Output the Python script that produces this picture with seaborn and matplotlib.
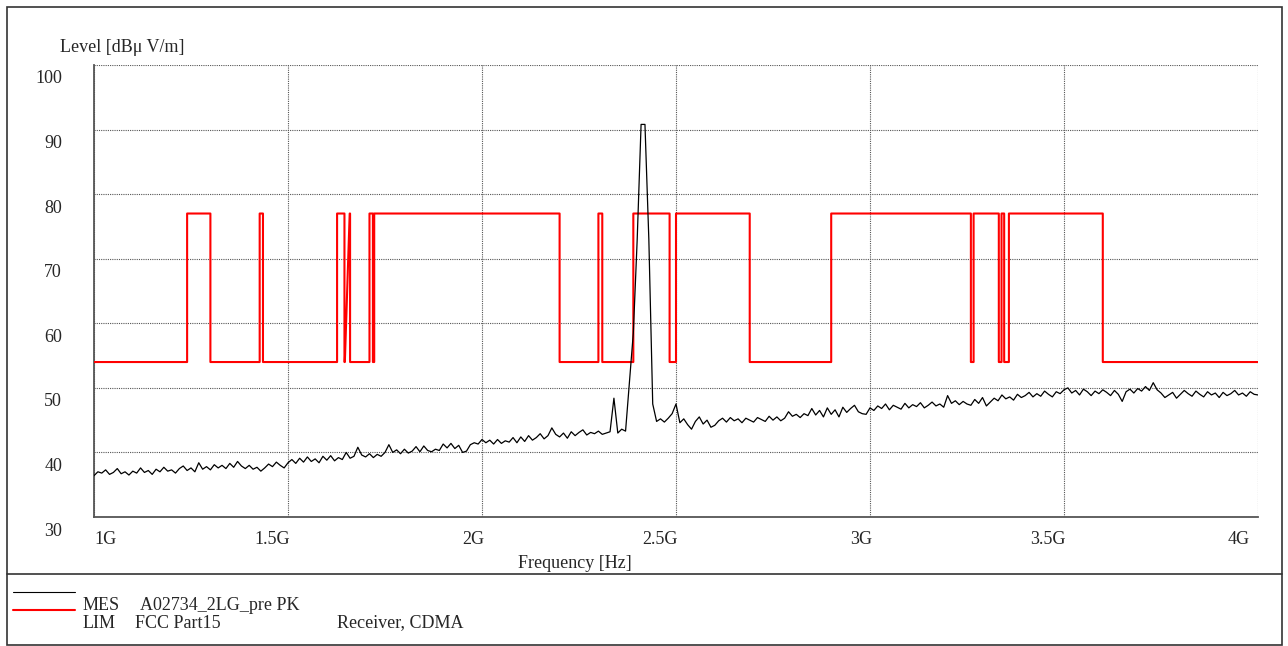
import numpy as np
import pandas as pd
import matplotlib.pyplot as plt
import matplotlib.transforms as mtransforms
from matplotlib.lines import Line2D
from matplotlib.patches import Rectangle
import seaborn as sns

# Measured level (peak detector), one reading every 10 MHz from 1 GHz to 4 GHz
level_1000_1500 = [36.4, 37.0, 36.8, 37.3, 36.6, 36.9, 37.5, 36.7, 37.0, 36.5,
                   37.1, 36.8, 37.6, 36.9, 37.2, 36.6, 37.4, 37.0, 37.7, 37.1,
                   37.3, 36.8, 37.5, 37.9, 37.2, 37.6, 37.0, 38.4, 37.4, 37.8,
                   37.3, 38.1, 37.6, 38.0, 37.5, 38.3, 37.7, 38.6, 37.9, 37.5,
                   38.0, 37.4, 37.7, 37.1, 37.6, 38.2, 37.8, 38.5, 38.0, 37.6, 38.4]
level_1510_1750 = [38.9, 38.3, 39.1, 38.5, 39.3, 38.6, 39.0, 38.4, 39.4, 38.8,
                   39.5, 38.7, 39.2, 38.9, 40.0, 39.1, 39.4, 40.8, 39.6, 39.3,
                   39.8, 39.2, 39.7, 39.4, 40.0]
level_1760_2000 = [41.2, 40.0, 40.4, 39.8, 40.5, 39.9, 40.2, 40.9, 40.1, 41.0,
                   40.3, 40.1, 40.5, 40.3, 41.3, 40.7, 41.4, 40.6, 41.1, 40.0,
                   40.2, 41.2, 41.5, 41.3, 42.0]
level_2010_2250 = [41.5, 41.9, 41.3, 42.0, 41.4, 41.8, 41.6, 42.3, 41.5, 42.4,
                   41.7, 42.6, 41.9, 42.3, 42.9, 42.1, 42.6, 43.8, 42.8, 42.4,
                   43.0, 42.2, 43.2, 42.6, 43.1]
level_2260_2500 = [43.5, 42.7, 43.1, 42.9, 43.3, 42.8, 43.0, 43.2, 48.4, 43.0,
                   43.6, 43.3, 50.8, 58.5, 73.0, 90.8, 90.8, 73.0, 47.5, 44.8,
                   45.2, 44.7, 45.3, 46.0, 47.5]
level_2510_2750 = [44.6, 45.2, 44.3, 43.6, 44.8, 45.5, 44.4, 45.0, 43.9, 44.2,
                   44.9, 45.3, 44.7, 45.4, 44.9, 45.2, 44.6, 45.3, 45.0, 44.7,
                   45.4, 45.1, 44.8, 45.6, 45.0]
level_2760_3000 = [45.5, 44.9, 45.3, 46.3, 45.6, 45.9, 45.4, 46.0, 45.7, 46.8,
                   45.8, 46.5, 45.5, 46.9, 45.9, 46.6, 45.5, 47.0, 46.2, 46.8,
                   47.3, 46.3, 46.0, 45.9, 46.9]
level_3010_3250 = [46.5, 47.2, 46.8, 47.5, 46.6, 47.3, 47.0, 46.7, 47.6, 46.9,
                   47.4, 47.1, 47.7, 46.9, 47.3, 47.8, 47.2, 47.5, 47.0, 48.8,
                   47.6, 48.0, 47.4, 47.9, 47.5]
level_3260_3500 = [47.3, 48.2, 47.6, 48.5, 47.2, 47.8, 48.4, 48.0, 48.9, 48.3,
                   48.6, 48.1, 49.0, 48.5, 48.8, 49.3, 48.6, 49.1, 48.7, 49.5,
                   49.0, 48.6, 49.4, 49.1, 49.7]
level_3510_3750 = [50.0, 49.2, 49.6, 48.9, 49.8, 49.4, 48.8, 49.5, 49.1, 49.7,
                   49.3, 48.8, 49.6, 49.0, 47.9, 49.4, 49.8, 49.2, 49.9, 49.5,
                   50.2, 49.6, 50.8, 49.7, 49.2]
level_3760_4000 = [48.5, 48.9, 49.3, 48.4, 49.0, 49.6, 49.1, 48.7, 49.5, 49.0,
                   48.6, 49.4, 48.9, 49.2, 48.5, 49.3, 48.8, 49.1, 49.6, 48.9,
                   49.2, 48.7, 49.4, 49.0, 48.9]

mes_level = (level_1000_1500 + level_1510_1750 + level_1760_2000 + level_2010_2250
             + level_2260_2500 + level_2510_2750 + level_2760_3000 + level_3010_3250
             + level_3260_3500 + level_3510_3750 + level_3760_4000)
mes_freq = np.round(np.arange(len(mes_level)) * 0.01 + 1.0, 2)

# FCC Part15 limit line (GHz, dBuV/m) - vertices as drawn
lim_freq = [1.0, 1.24, 1.24, 1.30, 1.30, 1.427, 1.427, 1.4355, 1.4355, 1.6265,
            1.6265, 1.6455, 1.6455, 1.6465, 1.659, 1.66, 1.66, 1.71, 1.71, 1.7188,
            1.7188, 1.7222, 1.7222, 2.2, 2.2, 2.3, 2.3, 2.31, 2.31, 2.39,
            2.39, 2.4835, 2.4835, 2.5, 2.5, 2.69, 2.69, 2.9, 2.9, 3.26,
            3.26, 3.267, 3.267, 3.332, 3.332, 3.339, 3.339, 3.3458, 3.3458, 3.358,
            3.358, 3.6, 3.6, 4.0]
lim_level = [54, 54, 77, 77, 54, 54, 77, 77, 54, 54,
             77, 77, 54, 54, 77, 77, 54, 54, 77, 77,
             54, 54, 77, 77, 54, 54, 77, 77, 54, 54,
             77, 77, 54, 54, 77, 77, 54, 54, 77, 77,
             54, 54, 77, 77, 54, 54, 77, 77, 54, 54,
             77, 77, 54, 54]

x_ticks = [1.0, 1.5, 2.0, 2.5, 3.0, 3.5, 4.0]
x_labels = ["1G", "1.5G", "2G", "2.5G", "3G", "3.5G", "4G"]
y_ticks = [30, 40, 50, 60, 70, 80, 90, 100]

mes = pd.DataFrame({"freq": mes_freq, "level": mes_level})
lim = pd.DataFrame({"freq": lim_freq, "level": lim_level})

sns.set_style("white")
plt.rcParams["font.family"] = ["Liberation Serif", "DejaVu Serif"]
plt.rcParams["font.size"] = 13

fig = plt.figure(figsize=(12.88, 6.46), dpi=100)
ax = fig.add_axes([94 / 1288, 129 / 646, 1164 / 1288, 452 / 646])

sns.lineplot(data=lim, x="freq", y="level", estimator=None, sort=False,
             color="#ff0000", linewidth=1.5, ax=ax, zorder=3)
sns.lineplot(data=mes, x="freq", y="level", estimator=None, sort=False,
             color="black", linewidth=0.9, ax=ax, zorder=4)

ax.set_xlim(1.0, 4.0)
ax.set_ylim(30, 100)
ax.set_xticks(x_ticks)
ax.set_xticklabels(x_labels)
ax.set_yticks(y_ticks)
ax.set_xlabel("")
ax.set_ylabel("")
ax.grid(True, color="#555555", linestyle=(0, (1, 1)), linewidth=0.8)
ax.tick_params(axis="both", length=0, labelsize=13)
ax.tick_params(axis="y", pad=23)
ax.tick_params(axis="x", pad=10)

for side in ["top", "right"]:
    ax.spines[side].set_visible(False)
for side in ["left", "bottom"]:
    ax.spines[side].set_color("#555555")
    ax.spines[side].set_linewidth(1.3)

# y labels sit a little below their grid line
shift_down = mtransforms.ScaledTranslation(0, -12 / 100, fig.dpi_scale_trans)
for lab in ax.get_yticklabels():
    lab.set_transform(lab.get_transform() + shift_down)

for lab in ax.get_xticklabels():
    txt = lab.get_text()
    if txt == "1G":
        lab.set_horizontalalignment("left")
    else:
        lab.set_horizontalalignment("right")
        dx = -8 if txt == "4G" else 2
        lab.set_transform(lab.get_transform() + mtransforms.ScaledTranslation(dx / 100, 0, fig.dpi_scale_trans))

fig.text(60 / 1288, 1 - 47 / 646, "Level [dBμ V/m]", ha="left", va="center", fontsize=13)
fig.text(575 / 1288, 1 - 564 / 646, "Frequency [Hz]", ha="center", va="center", fontsize=13)

# outer frame and legend box
fig.add_artist(Rectangle((6.5 / 1288, 1 / 646), 1275.5 / 1288, 638 / 646, transform=fig.transFigure,
                         fill=False, edgecolor="#333333", linewidth=1.2))
fig.add_artist(Line2D([6.5 / 1288, 1282 / 1288], [1 - 574 / 646, 1 - 574 / 646],
                      transform=fig.transFigure, color="#333333", linewidth=1.2))
fig.add_artist(Line2D([13 / 1288, 75 / 1288], [1 - 592 / 646, 1 - 592 / 646],
                      transform=fig.transFigure, color="black", linewidth=0.8))
fig.add_artist(Line2D([13 / 1288, 75 / 1288], [1 - 610 / 646, 1 - 610 / 646],
                      transform=fig.transFigure, color="#ff0000", linewidth=1.5))

fig.text(83 / 1288, 1 - 605 / 646, "MES", ha="left", va="center", fontsize=13)
fig.text(140 / 1288, 1 - 605 / 646, "A02734_2LG_pre PK", ha="left", va="center", fontsize=13)
fig.text(83 / 1288, 1 - 623 / 646, "LIM", ha="left", va="center", fontsize=13)
fig.text(135 / 1288, 1 - 623 / 646, "FCC Part15", ha="left", va="center", fontsize=13)
fig.text(337 / 1288, 1 - 623 / 646, "Receiver, CDMA", ha="left", va="center", fontsize=13)

fig.savefig("out.png", dpi=100)
